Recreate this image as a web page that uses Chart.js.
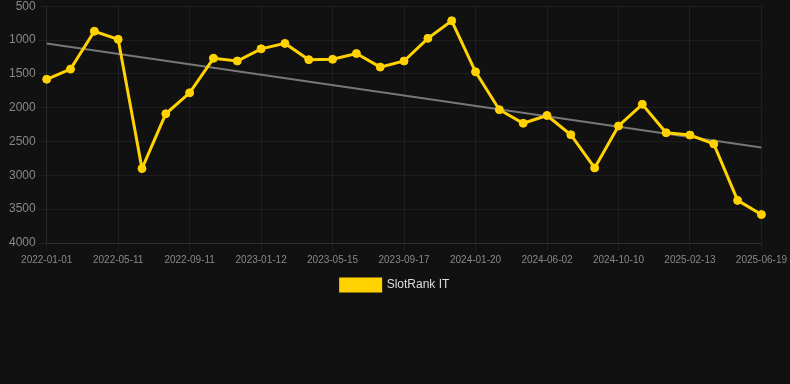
<!DOCTYPE html>
<html>
<head>
<meta charset="utf-8">
<script src="https://cdn.jsdelivr.net/npm/chart.js@4/dist/chart.umd.min.js"></script>
<style>
html,body{margin:0;padding:0;background:#111111;overflow:hidden;}
#wrap{width:790px;height:305px;position:relative;margin-top:-4px;}
</style>
</head>
<body>
<div id="wrap"><canvas id="c"></canvas></div>
<script>
const categories = ["2022-01-01","2022-02-13","2022-03-28","2022-05-11","2022-06-21","2022-08-01","2022-09-11","2022-10-22","2022-12-02","2023-01-12","2023-02-23","2023-04-04","2023-05-15","2023-06-26","2023-08-06","2023-09-17","2023-10-31","2023-12-12","2024-01-20","2024-03-04","2024-04-18","2024-06-02","2024-07-15","2024-08-27","2024-10-10","2024-11-21","2025-01-02","2025-02-13","2025-03-27","2025-05-08","2025-06-19"];
const slotRankIT = [1580,1430,870,990,2900,2090,1780,1270,1310,1130,1050,1290,1285,1200,1400,1310,975,715,1470,2030,2230,2115,2400,2890,2270,1950,2370,2405,2535,3370,3580];
const trendEnds = [1050, 2590];
const yTicks = [500,1000,1500,2000,2500,3000,3500,4000];

const trend = categories.map((_, i) => i === 0 ? trendEnds[0] : (i === categories.length - 1 ? trendEnds[1] : null));
const gridCol = 'rgba(255,255,255,0.055)';

new Chart(document.getElementById('c'), {
  type: 'line',
  data: {
    labels: categories,
    datasets: [
      {
        label: 'SlotRank IT',
        data: slotRankIT,
        borderColor: '#FFD200',
        backgroundColor: '#FFD200',
        borderWidth: 3,
        pointRadius: 4,
        pointBorderWidth: 1,
        pointBackgroundColor: '#FFD200',
        pointBorderColor: '#FFD200',
        tension: 0,
        order: 1
      },
      {
        label: 'Trend',
        data: trend,
        spanGaps: true,
        borderColor: '#777777',
        borderWidth: 2,
        pointRadius: 0,
        fill: false,
        order: 2
      }
    ]
  },
  options: {
    responsive: true,
    maintainAspectRatio: false,
    animation: false,
    layout: { padding: 0 },
    plugins: {
      legend: {
        position: 'bottom',
        labels: {
          filter: (item) => item.text !== 'Trend',
          color: '#dddddd',
          font: { family: 'Liberation Sans, Arial, sans-serif', size: 12 },
          boxWidth: 40,
          boxHeight: 12
        }
      },
      tooltip: { enabled: false }
    },
    scales: {
      x: {
        type: 'category',
        offset: false,
        grid: {
          color: (ctx) => (ctx.index % 3 === 0 ? gridCol : 'transparent'),
          tickColor: (ctx) => (ctx.index % 3 === 0 ? gridCol : 'transparent')
        },
        border: { color: 'rgba(255,255,255,0.08)' },
        ticks: {
          autoSkip: false,
          maxRotation: 0,
          minRotation: 0,
          color: '#888888',
          font: { family: 'Liberation Sans, Arial, sans-serif', size: 10 },
          callback: function (val, idx) { return idx % 3 === 0 ? categories[idx] : ''; }
        }
      },
      y: {
        reverse: true,
        min: 500,
        max: 4000,
        afterBuildTicks: (axis) => { axis.ticks = yTicks.map(v => ({ value: v })); },
        afterFit: (axis) => { axis.width += 6; },
        grid: { color: gridCol, tickColor: gridCol },
        border: { color: 'rgba(255,255,255,0.05)' },
        ticks: {
          color: '#888888',
          font: { family: 'Liberation Sans, Arial, sans-serif', size: 12 },
          callback: (v) => String(v)
        }
      }
    }
  }
});
</script>
</body>
</html>
